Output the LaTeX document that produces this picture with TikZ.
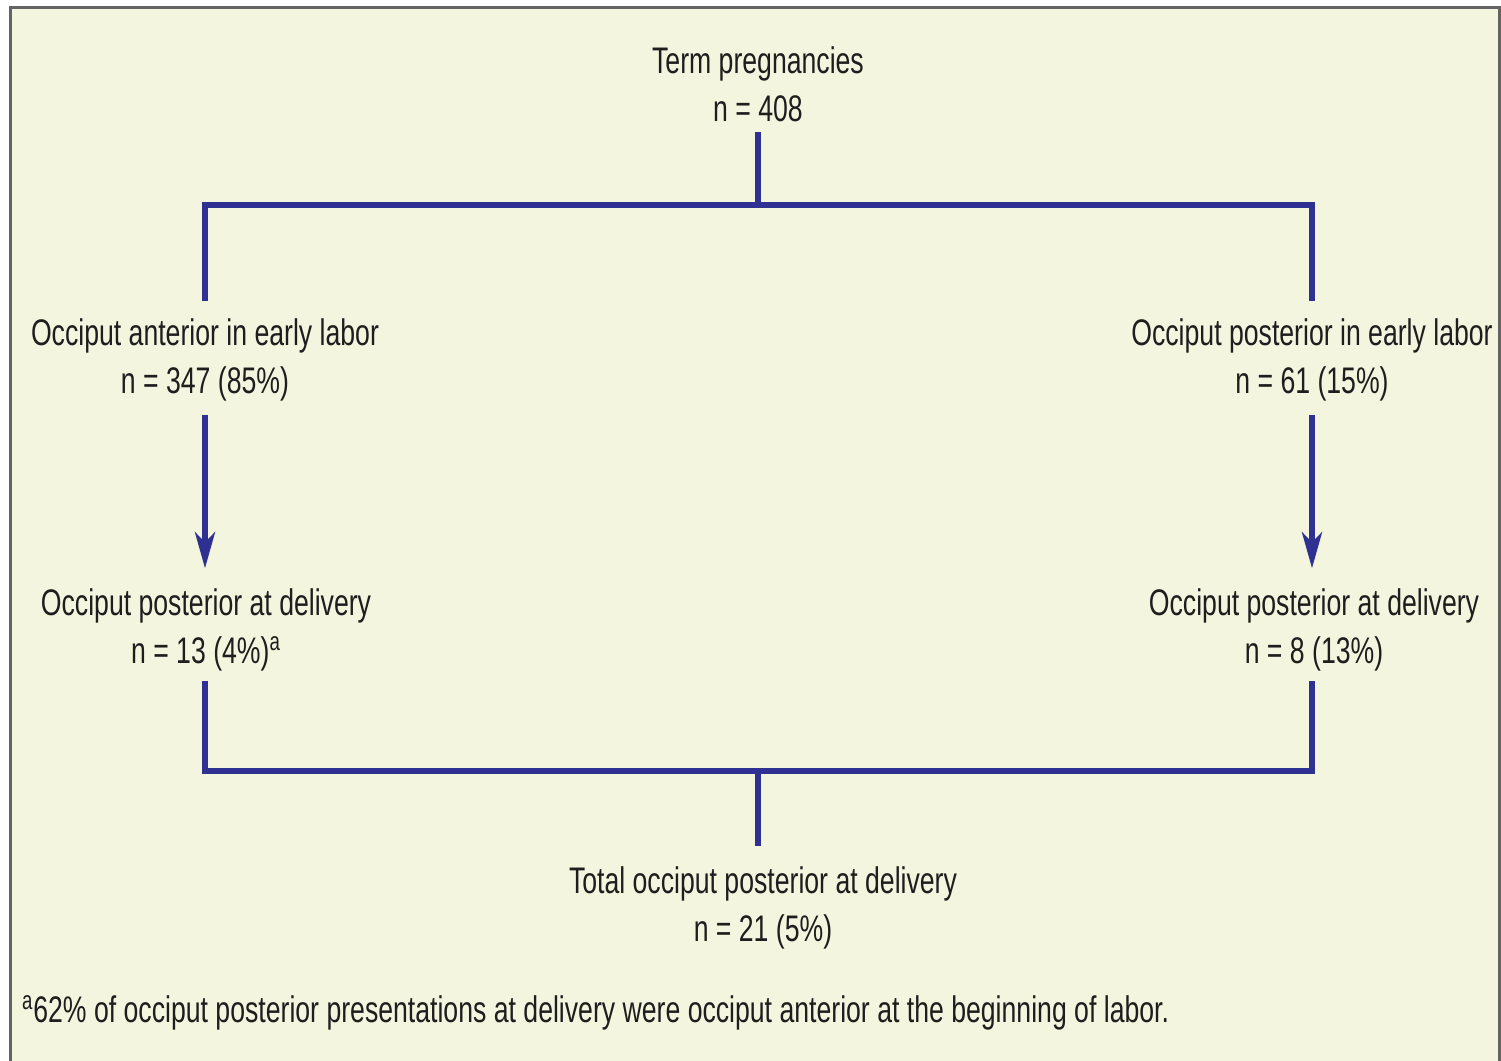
\documentclass[tikz,border=0pt]{standalone}
\usepackage{fontspec}
\setmainfont{Liberation Sans}[FakeStretch=0.72]
\usetikzlibrary{arrows.meta}
\definecolor{bgc}{RGB}{243,245,222}
\definecolor{framec}{RGB}{100,100,100}
\definecolor{linec}{RGB}{46,49,146}
\definecolor{txtc}{RGB}{30,30,30}
\begin{document}
\begin{tikzpicture}[x=0.5pt,y=-0.5pt,
  lbl/.style={align=center,inner sep=0pt,outer sep=0pt,text=txtc,font=\fontsize{18.5}{24}\selectfont},
  conn/.style={draw=linec,line width=2.75pt,line join=miter,line cap=butt},
  arr/.style={conn,-{Stealth[length=18pt,width=10pt,inset=5pt]}}]
\useasboundingbox (0,0) rectangle (1501,1061);
\fill[white] (0,0) rectangle (1501,1061);
\fill[bgc] (10,7) rectangle (1499,1061);
\draw[framec,line width=1.5pt] (10,1061) -- (10,7) -- (1499,7) -- (1499,1061);

\node[lbl] (term) at (758,84.5) {Term pregnancies\\n = 408};
\node[lbl] (oa) at (205,359.5) {Occiput anterior in early labor\\n = 347 (85\%)};
\node[lbl] (op) at (1312,359.5) {Occiput posterior in early labor\\n = 61 (15\%)};
\node[lbl] (oad) at (206,629.5) {Occiput posterior at delivery\\n = 13 (4\%)\textsuperscript{a}};
\node[lbl] (opd) at (1314,629.5) {Occiput posterior at delivery\\n = 8 (13\%)};
\node[lbl] (tot) at (763,907.5) {Total occiput posterior at delivery\\n = 21 (5\%)};
\node[lbl,anchor=base west] (fn) at (22,1022) {\textsuperscript{a}62\% of occiput posterior presentations at delivery were occiput anterior at the beginning of labor.};

\coordinate (jt) at (758,205);
\coordinate (jb) at (758,771);

\draw[conn,shorten <=5pt] (term.south) -- (jt);
\draw[conn,shorten <=8.75pt,shorten >=8.75pt] (oa.north) |- (jt) -| (op.north);
\draw[arr,shorten <=7pt,shorten >=10pt] (oa) -- (oa |- oad.north);
\draw[arr,shorten <=7pt,shorten >=10pt] (op) -- (op |- opd.north);
\draw[conn,shorten <=5pt,shorten >=5pt] (oa |- oad.south) |- (jb) -| (op |- opd.south);
\draw[conn,shorten >=10pt] (jb) -- (jb |- tot.north);
\end{tikzpicture}
\end{document}
